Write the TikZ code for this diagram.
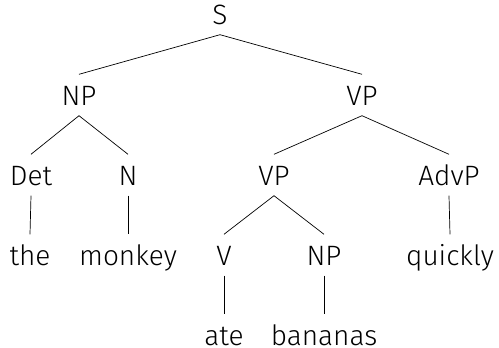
\documentclass[tikz,border=0pt]{standalone}
\usepackage{fontspec}
\setmainfont{Fira Sans}[UprightFont={* Light}]
\begin{document}
\begin{tikzpicture}[x=1pt,y=-1pt,
  tn/.style={anchor=base,font=\fontsize{28}{30}\selectfont,text height=20pt,text depth=0pt,inner xsep=0pt,inner ysep=10.5pt},
  br/.style={line width=0.7pt}]
\useasboundingbox (0,0) rectangle (499,348);
\node[tn] (S) at (220,24) {S};
\node[tn] (NP) at (79,105) {NP};
\node[tn] (VP) at (362,105) {VP};
\node[tn] (Det) at (31,185) {Det};
\node[tn] (N) at (128,185) {N};
\node[tn] (VPb) at (274,185) {VP};
\node[tn] (AdvP) at (449,185) {AdvP};
\node[tn] (the) at (30,265) {the};
\node[tn] (monkey) at (128,265) {monkey};
\node[tn] (V) at (224,265) {V};
\node[tn] (NPb) at (324,265) {NP};
\node[tn] (quickly) at (450,265) {quickly};
\node[tn] (ate) at (224,345) {ate};
\node[tn] (bananas) at (324,345) {bananas};
\draw[br] (S.south) -- (NP.north);
\draw[br] (S.south) -- (VP.north);
\draw[br] (NP.south) -- (Det.north);
\draw[br] (NP.south) -- (N.north);
\draw[br] (VP.south) -- (VPb.north);
\draw[br] (VP.south) -- (AdvP.north);
\draw[br] (Det.south) -- (the.north);
\draw[br] (N.south) -- (monkey.north);
\draw[br] (VPb.south) -- (V.north);
\draw[br] (VPb.south) -- (NPb.north);
\draw[br] (AdvP.south) -- (quickly.north);
\draw[br] (V.south) -- (ate.north);
\draw[br] (NPb.south) -- (bananas.north);
\end{tikzpicture}
\end{document}
